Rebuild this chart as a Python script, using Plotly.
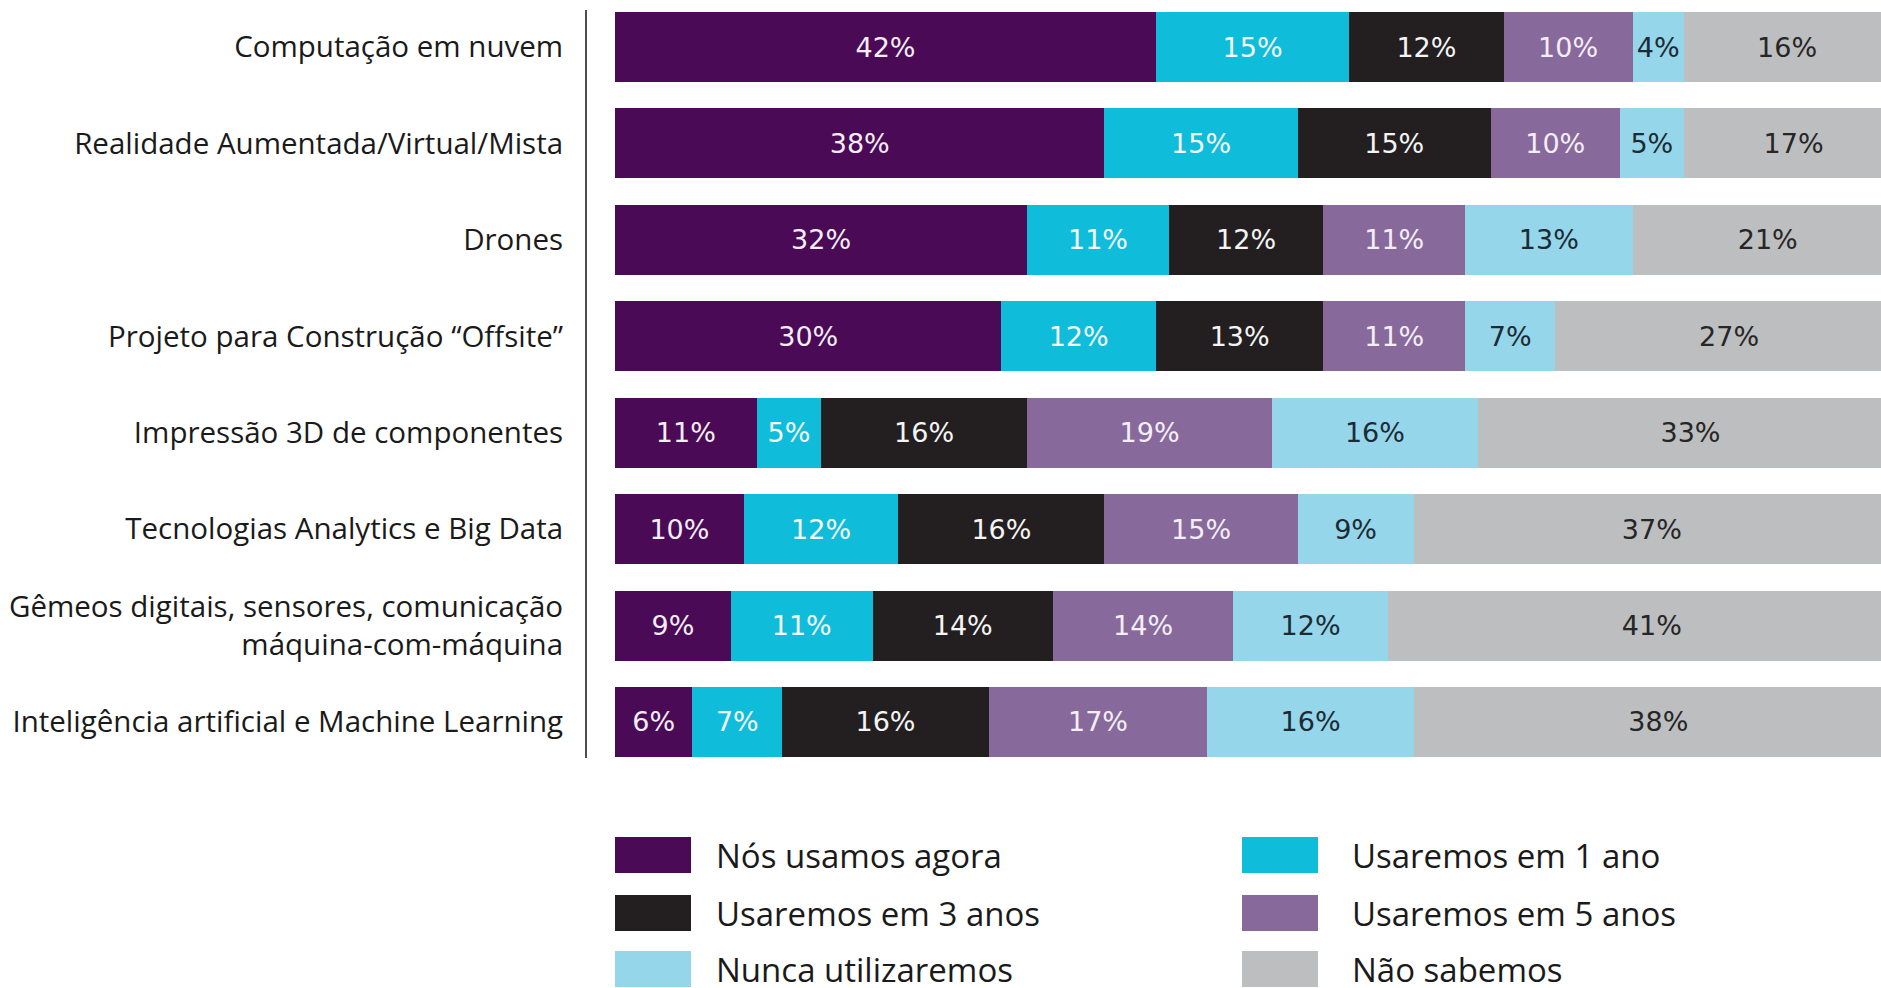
import plotly.graph_objects as go

# Technologies (top to bottom)
technologies = [
    "Computação em nuvem",
    "Realidade Aumentada/Virtual/Mista",
    "Drones",
    "Projeto para Construção “Offsite”",
    "Impressão 3D de componentes",
    "Tecnologias Analytics e Big Data",
    "Gêmeos digitais, sensores, comunicação<br>máquina-com-máquina",
    "Inteligência artificial e Machine Learning",
]

# Share of respondents per answer (%)
usamos_agora = [42, 38, 32, 30, 11, 10, 9, 6]
em_1_ano = [15, 15, 11, 12, 5, 12, 11, 7]
em_3_anos = [12, 15, 12, 13, 16, 16, 14, 16]
em_5_anos = [10, 10, 11, 11, 19, 15, 14, 17]
nunca = [4, 5, 13, 7, 16, 9, 12, 16]
nao_sabemos = [16, 17, 21, 27, 33, 37, 41, 38]

series_names = [
    "Nós usamos agora",
    "Usaremos em 1 ano",
    "Usaremos em 3 anos",
    "Usaremos em 5 anos",
    "Nunca utilizaremos",
    "Não sabemos",
]
series_values = [usamos_agora, em_1_ano, em_3_anos, em_5_anos, nunca, nao_sabemos]
series_colors = ["#4a0a56", "#0fbcd9", "#231f20", "#87699b", "#96d6ea", "#bdbec0"]
label_colors = ["#f4eef7", "#f4fbfd", "#f4f4f4", "#f4eef7", "#1c2b33", "#262626"]

W, H = 1881, 988
PLOT_L, PLOT_R = 587, 1881
PLOT_T, PLOT_B = 10, 758
PX_PER_PCT = 12.88
BAR_START = 615

fig = go.Figure()
for name, vals, col, lcol in zip(series_names, series_values, series_colors, label_colors):
    fig.add_trace(go.Bar(
        y=technologies,
        x=vals,
        name=name,
        orientation="h",
        marker=dict(color=col, line=dict(width=0)),
        width=0.726,
        text=[f"{v}%" for v in vals],
        textposition="inside",
        insidetextanchor="middle",
        textangle=0,
        constraintext="none",
        textfont=dict(family="DejaVu Sans", size=27, color=lcol),
        showlegend=False,
        hoverinfo="skip",
    ))

x0 = -(BAR_START - PLOT_L) / PX_PER_PCT
x1 = x0 + (PLOT_R - PLOT_L) / PX_PER_PCT
row_gap = 96.4
y_top = -(47 - PLOT_T) / row_gap
y_bot = (len(technologies) - 1) + (PLOT_B - 722) / row_gap

fig.update_layout(
    width=W,
    height=H,
    barmode="stack",
    plot_bgcolor="white",
    paper_bgcolor="white",
    margin=dict(l=PLOT_L, r=W - PLOT_R, t=PLOT_T, b=H - PLOT_B, pad=0),
    uniformtext=dict(minsize=27, mode="show"),
    xaxis=dict(range=[x0, x1], visible=False, fixedrange=True),
    yaxis=dict(
        type="category",
        range=[y_bot, y_top],
        showline=True,
        linecolor="#4d4d4d",
        linewidth=2,
        showgrid=False,
        zeroline=False,
        ticks="",
        ticklabelstandoff=16,
        tickfont=dict(family="Open Sans", size=29.5, color="#1a1a1a"),
        fixedrange=True,
    ),
)

# Legend: two columns of colour swatches with labels
def px_to_paper_x(px):
    return (px - PLOT_L) / (PLOT_R - PLOT_L)

def px_to_paper_y(py):
    return (PLOT_B - py) / (PLOT_B - PLOT_T)

col_swatch_x = [615, 1242]
col_text_x = [714, 1350]
row_top = [837, 895, 951]
sw_w, sw_h = 76, 36
for i, (name, col) in enumerate(zip(series_names, series_colors)):
    c, r = i % 2, i // 2
    sx, sy = col_swatch_x[c], row_top[r]
    fig.add_shape(
        type="rect", xref="paper", yref="paper",
        x0=px_to_paper_x(sx), x1=px_to_paper_x(sx + sw_w),
        y0=px_to_paper_y(sy + sw_h), y1=px_to_paper_y(sy),
        fillcolor=col, line=dict(width=0),
    )
    fig.add_annotation(
        xref="paper", yref="paper",
        x=px_to_paper_x(col_text_x[c]), y=px_to_paper_y(sy + sw_h / 2),
        text=name, showarrow=False, xanchor="left", yanchor="middle",
        font=dict(family="Open Sans", size=33, color="#1a1a1a"),
    )

fig.write_html("out.html")
